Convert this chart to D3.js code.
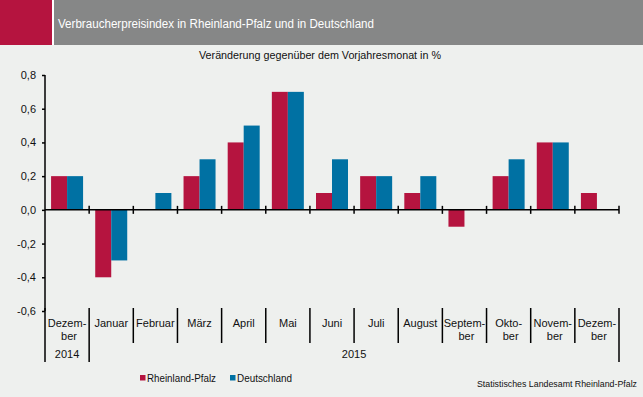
<!DOCTYPE html>
<html><head><meta charset="utf-8">
<script src="https://cdn.jsdelivr.net/npm/d3@7"></script>
<style>
html,body{margin:0;padding:0;background:#eef0ee;}
svg{display:block;font-family:"Liberation Sans",Arial,sans-serif;}
</style></head>
<body>
<svg id="c" width="643" height="397"></svg>
<script>
const categories = [["Dezem-","ber"],["Januar"],["Februar"],["März"],["April"],["Mai"],["Juni"],["Juli"],["August"],["Septem-","ber"],["Okto-","ber"],["Novem-","ber"],["Dezem-","ber"]];
const years = [{label:"2014", from:0, to:1},{label:"2015", from:1, to:13}];
const seriesNames = ["Rheinland-Pfalz","Deutschland"];
const rlp = [0.2,-0.4,0.0,0.2,0.4,0.7,0.1,0.2,0.1,-0.1,0.2,0.4,0.1];
const de  = [0.2,-0.3,0.1,0.3,0.5,0.7,0.3,0.2,0.2,0.0,0.3,0.4,0.0];
const yTicks = [0.8,0.6,0.4,0.2,0.0,-0.2,-0.4,-0.6];
const colors = ["#b5143f","#0071a3"];
const title = "Verbraucherpreisindex in Rheinland-Pfalz und in Deutschland";
const subtitle = "Veränderung gegenüber dem Vorjahresmonat in %";
const source = "Statistisches Landesamt Rheinland-Pfalz";

const svg = d3.select("#c");
svg.append("rect").attr("x",0).attr("y",0).attr("width",643).attr("height",397).attr("fill","#eef0ee");
// header
svg.append("rect").attr("x",0).attr("y",0).attr("width",52).attr("height",45).attr("fill","#b5143f");
svg.append("rect").attr("x",52).attr("y",0).attr("width",2).attr("height",45).attr("fill","#ffffff");
svg.append("rect").attr("x",54).attr("y",0).attr("width",589).attr("height",45).attr("fill","#868787");
svg.append("text").attr("x",58).attr("y",27.5).attr("fill","#ffffff").attr("font-size",12.5)
  .attr("textLength",316).attr("lengthAdjust","spacingAndGlyphs").text(title);
svg.append("text").attr("x",199).attr("y",59).attr("fill","#111").attr("font-size",11.5)
  .attr("textLength",242).attr("lengthAdjust","spacingAndGlyphs").text(subtitle);

const idx = d3.range(categories.length);
const x = d3.scaleBand().domain(idx).range([45,619]).paddingInner(0).paddingOuter(0);
const bw = x.bandwidth();
const x1 = d3.scaleBand().domain(seriesNames).range([(bw-32)/2,(bw+32)/2]);
const y = d3.scaleLinear().domain([-0.6,0.8]).range([311,75]);
const fmt = v => d3.format(".1f")(v).replace(".",",").replace("−","-");

// bars
const data = [rlp,de];
seriesNames.forEach((s,si)=>{
  svg.append("g").selectAll("rect").data(data[si]).join("rect")
    .attr("x",(d,i)=>x(i)+x1(s)).attr("width",x1.bandwidth())
    .attr("y",d=>y(Math.max(0,d))).attr("height",d=>Math.abs(y(d)-y(0)))
    .attr("fill",colors[si]);
});

// y axis
const yAxis = d3.axisLeft(y).tickValues(yTicks).tickSize(3).tickFormat(fmt);
const ga = svg.append("g").attr("transform","translate(45,0)").call(yAxis);
ga.select(".domain").attr("stroke","#000").attr("stroke-width",1.5).attr("d","M0,75V311");
ga.selectAll(".tick line").attr("stroke","#000").attr("stroke-width",1.5);
ga.selectAll(".tick text").attr("font-size",11).attr("fill","#111").attr("x",-9).attr("font-family","Liberation Sans, Arial, sans-serif");

// x zero axis with ticks
svg.append("line").attr("x1",45).attr("x2",619).attr("y1",y(0)).attr("y2",y(0)).attr("stroke","#000").attr("stroke-width",1.5);
const bounds = idx.map(i=>x(i)).concat([619]);
svg.append("g").selectAll("line").data(bounds.slice(1)).join("line")
  .attr("x1",d=>d).attr("x2",d=>d).attr("y1",y(0)-4).attr("y2",y(0)+4).attr("stroke","#000").attr("stroke-width",1.5);

// category separators
const yearEdges = new Set(years.flatMap(yr=>[yr.from,yr.to]));
svg.append("g").selectAll("line").data(idx.concat([13])).join("line")
  .attr("x1",i=>i<13?x(i):619).attr("x2",i=>i<13?x(i):619)
  .attr("y1",308).attr("y2",i=>yearEdges.has(i)?362:343)
  .attr("stroke","#000").attr("stroke-width",1.5);

// category labels
const lab = svg.append("g").attr("font-size",11).attr("fill","#111").attr("text-anchor","middle");
categories.forEach((lines,i)=>{
  lines.forEach((t,k)=>{
    lab.append("text").attr("x",x(i)+bw/2+(k===1?2:0)).attr("y",327+k*12.5).attr("fill","#111").text(t);
  });
});
years.forEach(yr=>{
  const cx = (x(yr.from) + (yr.to<13?x(yr.to):619))/2;
  lab.append("text").attr("x",cx).attr("y",358).attr("fill","#111").text(yr.label);
});

// legend
const legX = [140,230], legW=[69,55];
seriesNames.forEach((s,si)=>{
  svg.append("rect").attr("x",legX[si]).attr("y",375).attr("width",5.5).attr("height",5.5).attr("fill",colors[si]);
  svg.append("text").attr("x",legX[si]+7).attr("y",381.5).attr("font-size",10).attr("fill","#111")
    .attr("textLength",legW[si]).attr("lengthAdjust","spacingAndGlyphs").text(s);
});
svg.append("text").attr("x",477).attr("y",386.5).attr("font-size",9).attr("fill","#111")
  .attr("textLength",160).attr("lengthAdjust","spacingAndGlyphs").text(source);
</script>
</body></html>
